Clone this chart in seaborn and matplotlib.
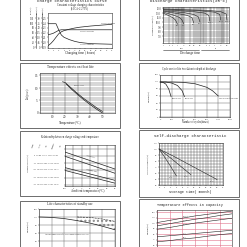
import numpy as np
import pandas as pd
import matplotlib
matplotlib.use("Agg")
import matplotlib.pyplot as plt
import seaborn as sns
from matplotlib.patches import Rectangle

# ---- data ----
# 1. charge characteristics
charge_time = [0, 1, 2, 3, 4, 5, 6, 8, 10, 12, 16, 20, 24]
charge_current = [81, 81, 81, 81, 60, 42, 34, 26, 20, 16, 12, 11, 10]
charge_volume = [5, 12, 22, 34, 46, 53, 57, 62, 66, 69, 73, 76, 79]
charge_voltage = [43, 45, 48, 53, 58, 60, 60, 60, 60, 60, 60, 60, 60]
volt_ticks = ['1.9', '2.0', '2.1', '2.2', '2.3', '2.4', '2.5']
curr_ticks = ['0', '.05', '.10', '.15', '.20', '.25', '.30']
vol_ticks = ['0', '20', '40', '60', '80', '100', '120']

# 2. discharge characteristics (time in minutes, terminal voltage)
dis_rates = ['3CA', '2CA', '1CA', '0.6CA', '0.25CA', '0.1CA', '0.05CA']
dis_times = [[1, 2, 3, 4, 5],
             [1, 3, 6, 8, 10],
             [1, 5, 15, 25, 30],
             [1, 10, 30, 50, 60],
             [1, 30, 100, 160, 180],
             [1, 60, 300, 540, 600],
             [1, 120, 600, 1100, 1200]]
dis_volts = [[12.0, 11.4, 11.0, 10.5, 9.6],
             [12.2, 11.6, 11.1, 10.6, 9.7],
             [12.4, 11.9, 11.5, 11.0, 9.9],
             [12.5, 12.1, 11.7, 11.2, 10.1],
             [12.7, 12.3, 12.0, 11.5, 10.3],
             [12.8, 12.5, 12.2, 11.7, 10.5],
             [12.9, 12.6, 12.3, 11.8, 10.5]]
dis_xticks = [1, 2, 3, 5, 10, 20, 30, 60, 120, 180, 300, 600, 1200]
dis_xlabels = ['1', '2', '3', '5', '10', '20', '30', '60', '2', '3', '5', '10', '20']
dis_yticks = [13, 12, 11, 10, 9, 8, 7]

# 3. temperature effects on float life
fl_temp_a = [18, 20, 25, 30, 35, 40, 45, 50]
fl_life_a = [12.5, 12.2, 10.0, 7.8, 5.8, 4.0, 2.2, 0.6]
fl_temp_b = [21, 25, 30, 35, 40, 45, 50]
fl_life_b = [11.6, 9.6, 7.4, 5.3, 3.4, 1.6, 0.0]

# 4. cycle life vs depth of discharge
dod_labels = ['100%D.O.D', '50%D.O.D', '30% Depth of discharge']
dod_cycles = [[0, 50, 100, 150, 190],
              [0, 100, 200, 300, 380, 420],
              [0, 200, 400, 600, 800, 900, 1000]]
dod_cap = [[100, 99, 94, 80, 58],
           [100, 100, 97, 90, 75, 58],
           [100, 100, 99, 95, 85, 75, 60]]

# 5. charge voltage vs temperature
cv_temp = [-10, 0, 10, 20, 30, 40, 50]
cyc_hi = [15.3, 15.1, 14.9, 14.7, 14.5, 14.3, 14.1]
cyc_lo = [15.0, 14.8, 14.6, 14.4, 14.2, 14.0, 13.8]
flt_hi = [14.2, 14.05, 13.9, 13.75, 13.6, 13.45, 13.3]
flt_lo = [14.0, 13.85, 13.7, 13.55, 13.4, 13.25, 13.1]
cv_headers = ['Temp.', 'Cycle', 'use', 'Standby', 'use']

# 6. self-discharge
sd_labels = ['40°C', '30°C', '20°C']
sd_months = [[0, 2, 4, 6], [0, 4, 8, 11], [0, 5, 10, 15, 20]]
sd_cap = [[100, 86, 71, 55], [100, 85, 69, 57], [100, 88, 75, 62, 49]]

# 7. standby life
sb_years = [0, 2, 4, 6, 8, 10, 12]
sb_cap = [100, 99, 96, 91, 85, 77, 68]
sb_band_years = [6, 8, 10, 12]
sb_band_hi = [100, 99, 95, 89]

# 8. temperature effects on capacity
tc_temp = [-10, 0, 10, 20, 30, 40, 50]
tc_labels = ['0.05CA', '0.1CA', '0.2CA', '1CA', '2CA']
tc_cap = [[101, 105, 109, 113, 116, 119, 122],
          [95, 99, 103, 107, 110, 114, 117],
          [89, 92, 96, 100, 103, 106, 109],
          [75, 77, 79, 81, 83, 85, 87],
          [66, 68, 71, 73, 76, 79, 81]]

# ---- figure ----
sns.set_style("white")
plt.rcParams['font.family'] = ['Liberation Serif', 'DejaVu Sans']
plt.rcParams.update({
    'axes.linewidth': 0.4, 'axes.edgecolor': '#333333',
    'xtick.major.width': 0.3, 'ytick.major.width': 0.3,
    'xtick.major.size': 0.8, 'ytick.major.size': 0.8,
    'xtick.minor.size': 0, 'ytick.minor.size': 0,
    'xtick.major.pad': 0.6, 'ytick.major.pad': 0.6,
    'xtick.labelsize': 2, 'ytick.labelsize': 2,
    'xtick.color': '#333333', 'ytick.color': '#333333',
    'xtick.bottom': True, 'ytick.left': True,
})

W = 247
fig = plt.figure(figsize=(2.47, 2.47), dpi=100)
fig.patch.set_facecolor('white')


def px_axes(x0, y0, x1, y1):
    return fig.add_axes([x0 / W, 1 - y1 / W, (x1 - x0) / W, (y1 - y0) / W])


def box(x0, y0, x1, y1):
    fig.patches.append(Rectangle((x0 / W, 1 - y1 / W), (x1 - x0) / W, (y1 - y0) / W,
                                 transform=fig.transFigure, fill=False,
                                 lw=0.6, ec='#555555'))


def ftext(x, y, s, size=2.6, **kw):
    fig.text(x / W, 1 - y / W, s, fontsize=size, ha=kw.pop('ha', 'center'),
             va=kw.pop('va', 'center'), color=kw.pop('color', '#222222'), **kw)


def line(ax, x, y, **kw):
    sns.lineplot(x=x, y=y, ax=ax, color=kw.pop('color', '#222222'),
                 lw=kw.pop('lw', 0.5), estimator=None, sort=False, **kw)


for b in [(20, -5, 120, 60), (139, -5, 239, 60), (20, 63, 120, 128), (139, 63, 239, 128),
          (20, 131, 120, 196), (139, 130, 239, 197), (20, 201, 120, 252), (139, 199, 239, 252)]:
    box(*b)

# 1 ---- charge characteristics
ftext(72, 1, 'Charge characteristics curve', size=3, family='Liberation Mono')
ftext(80, 5, 'Constant voltage charging characteristics', size=2)
ftext(80, 8, '(0.1CA-2.275V)', size=2)
ax1 = px_axes(48, 13, 112, 48)
line(ax1, charge_time, charge_volume)
line(ax1, charge_time, charge_voltage)
line(ax1, charge_time, charge_current)
ax1.set_xlim(0, 24)
ax1.set_ylim(-3, 118)
ax1.set_xticks(range(0, 25, 2))
ax1.set_xticklabels([str(t) for t in range(0, 25, 2)], fontsize=1.6)
pos = np.linspace(0, 100, 7)
ax1.set_yticks(pos)
ax1.set_yticklabels(volt_ticks)
for off, labels in [(4, curr_ticks), (8.5, vol_ticks)]:
    tw = ax1.twinx()
    tw.set_ylim(-3, 118)
    tw.yaxis.set_ticks_position('left')
    tw.spines['left'].set_position(('outward', off))
    for s in ['right', 'top', 'bottom']:
        tw.spines[s].set_visible(False)
    tw.set_yticks(pos)
    tw.set_yticklabels(labels)
ax1.text(charge_time[-2], charge_volume[-2] + 4, 'Charge volume', fontsize=1.6)
ax1.text(charge_time[-4], charge_voltage[-4] - 9, 'Charge voltage', fontsize=1.6)
ax1.text(charge_time[-4], charge_current[-4] - 7, 'Charge current', fontsize=1.6)
ax1.set_xlabel('')
ftext(80, 53, 'Charging time ( hours)', size=2.3)
for x, s in [(31, 'Volume(%)'), (37, 'Current(CA)'), (43, 'Voltage(V)')]:
    ftext(x, 10, s, size=1.3, rotation=90)

# 2 ---- discharge characteristics
ftext(189, 1, 'Discharge characteristics(25°C)', size=3, family='Liberation Mono')
ax2 = px_axes(163, 7, 229, 43)
for t, v in zip(dis_times, dis_volts):
    line(ax2, t, v, lw=0.4)
ax2.set_xscale('log')
ax2.set_xlim(1, 1500)
ax2.set_ylim(5.6, 13.3)
ax2.set_xticks(dis_xticks)
ax2.set_xticklabels(dis_xlabels, fontsize=1.6)
ax2.set_yticks(dis_yticks)
ax2.set_yticklabels([f'{v:.1f}' for v in dis_yticks])
ax2.yaxis.set_minor_locator(matplotlib.ticker.MultipleLocator(0.5))
ax2.grid(True, which='both', color='#444444', lw=0.3)
for t, v, r in zip(dis_times, dis_volts, dis_rates):
    ax2.text(t[-1] * 0.8, v[-1] - 0.45, r, fontsize=1.3)
ax2.plot([0, 0.55], [-0.2, -0.2], color='#333', lw=0.4, transform=ax2.transAxes, clip_on=False)
ax2.plot([0.57, 1], [-0.2, -0.2], color='#333', lw=0.4, transform=ax2.transAxes, clip_on=False)
ax2.text(0.28, -0.17, 'min', fontsize=1.6, transform=ax2.transAxes, ha='center')
ax2.text(0.78, -0.17, 'h', fontsize=1.6, transform=ax2.transAxes, ha='center')
ftext(190, 53, 'Discharge time', size=2.3)
ftext(153, 25, 'Terminal voltage(V)', size=1.7, rotation=90)

# 3 ---- temperature effects on float life
ftext(70, 67, 'Temperature effects on float life', size=2.6)
ax3 = px_axes(40, 73, 115, 113)
line(ax3, fl_temp_a, fl_life_a)
line(ax3, fl_temp_b, fl_life_b)
ax3.set_xlim(0, 60)
ax3.set_ylim(0, 16)
ax3.set_xticks([10, 20, 30, 40, 50])
ax3.set_yticks([0, 5, 10, 15])
ax3.tick_params(labelsize=2.4)
ax3.yaxis.set_minor_locator(matplotlib.ticker.MultipleLocator(1))
ax3.grid(True, which='major', axis='x', color='#444444', lw=0.3)
ax3.grid(True, which='both', axis='y', color='#444444', lw=0.3)
ax3.text(27, 11, '2.275V/cell', fontsize=1.6)
ftext(70, 123, 'Temperature(°C)', size=2.4)
ftext(28, 93, 'Life(years)', size=1.8, rotation=90)

# 4 ---- cycle life
ftext(189, 69, 'Cycle service life in relation to depth of discharge', size=1.9)
ax4 = px_axes(160, 75, 230, 117)
for c, v in zip(dod_cycles, dod_cap):
    line(ax4, c, v)
ax4.set_xlim(0, 1200)
ax4.set_ylim(0, 120)
ax4.set_xticks(range(0, 1201, 200))
ax4.set_yticks(range(0, 121, 20))
ax4.tick_params(labelsize=1.7)
ax4.grid(True, color='#555555', lw=0.3)
for c, v, s in zip(dod_cycles, dod_cap, dod_labels):
    ax4.text(c[-1] + 10, v[-1] - 3, s, fontsize=1.4, va='top')
ftext(195, 122, 'Number of cycles(times)', size=1.9)
ftext(149, 96, 'Capacity(%)', size=1.7, rotation=90)

# 5 ---- charge voltage vs temperature
ftext(70, 137, 'Relationship between charge voltage and temperature', size=1.9)
ax5 = px_axes(65, 145, 115, 186)
line(ax5, cv_temp, cyc_hi)
line(ax5, cv_temp, cyc_lo)
line(ax5, cv_temp, flt_hi)
line(ax5, cv_temp, flt_lo)
ax5.set_xlim(-10, 50)
ax5.set_ylim(12.9, 15.8)
ax5.set_xticks(range(-10, 51, 10))
ax5.set_yticks([13.0, 13.5, 14.0, 14.5, 15.0, 15.5])
ax5.set_yticklabels([])
ax5.tick_params(labelsize=1.6)
ax5.grid(True, color='#444444', lw=0.3)
ax5.text(15, 14.85, 'Cycle use', fontsize=1.5, rotation=-14)
ax5.text(15, 13.85, 'Standby use', fontsize=1.5, rotation=-12)
for j, h in enumerate(cv_headers):
    ftext(33 + j * 7, 145, h, size=1.6, rotation=70)
for i in range(5):
    row = f'{cv_temp[i + 1]:>3d}  {cyc_lo[i + 1]:.2f} {cyc_hi[i + 1]:.2f}  {flt_lo[i + 1]:.2f} {flt_hi[i + 1]:.2f}'
    ftext(46, 156 + i * 7, row, size=1.5)
ftext(88, 191, 'Ambient temperature(°C)', size=2.3)
ftext(28, 163, 'Charge voltage(V)', size=1.7, rotation=90)

# 6 ---- self discharge
ftext(190, 136, 'Self-discharge characteristic', size=3, family='Liberation Mono')
ax6 = px_axes(159, 143, 223, 185)
for m, v in zip(sd_months, sd_cap):
    line(ax6, m, v, lw=0.4)
ax6.set_xlim(0, 22)
ax6.set_ylim(40, 110)
ax6.set_xticks(range(0, 23, 2))
ax6.set_yticks(range(40, 111, 10))
ax6.tick_params(labelsize=1.6)
ax6.xaxis.set_minor_locator(matplotlib.ticker.MultipleLocator(1))
ax6.yaxis.set_minor_locator(matplotlib.ticker.MultipleLocator(5))
ax6.grid(True, which='both', color='#444444', lw=0.3)
for m, v, s in zip(sd_months, sd_cap, sd_labels):
    ax6.text(m[-1] - 2.5, v[-1] - 1, s, fontsize=1.5, va='top')
ftext(190, 192, 'Storage time( month)', size=2.6, family='Liberation Mono')
ftext(148, 164, 'Capacity retention(%)', size=1.6, rotation=90)

# 7 ---- standby life (lower part runs off the page)
ftext(70, 204, 'Life characteristics of standby use', size=2.3)
ax7 = px_axes(39, 209, 115, 257)
line(ax7, sb_years, sb_cap)
line(ax7, sb_band_years, sb_band_hi, ls='--', lw=0.4)
ax7.fill_between(sb_band_years, sb_band_hi, sb_cap[-4:], facecolor='none',
                 hatch='....', edgecolor='#888888', lw=0)
ax7.set_xlim(0, 12)
ax7.set_ylim(0, 120)
ax7.set_xticks(range(0, 13, 2))
ax7.set_xticklabels([])
ax7.set_yticks(range(0, 121, 20))
ax7.set_yticklabels(['', ''] + [str(v) for v in range(40, 121, 20)])
ax7.tick_params(labelsize=1.7)
ax7.grid(True, color='#555555', lw=0.3)
ax7.text(1, 55, 'Ambient temperature:20°C  Float charge voltage:2.275V/cell',
         fontsize=1.3)
ftext(28, 226, 'Capacity(%)', size=1.7, rotation=90)

# 8 ---- temperature effects on capacity (lower part runs off the page)
ftext(190, 205, 'Temperature effects in capacity', size=2.6, family='Liberation Mono')
ax8 = px_axes(157, 210, 232, 256)
for v in tc_cap:
    line(ax8, tc_temp, v, lw=0.4)
ax8.set_xlim(-10, 50)
ax8.set_ylim(40, 124)
ax8.set_xticks(range(-10, 51, 10))
ax8.set_xticklabels([])
ax8.set_yticks(range(50, 121, 10))
ax8.set_yticklabels([''] + [str(v) for v in range(60, 121, 10)])
ax8.tick_params(labelsize=1.6)
ax8.grid(True, color='#e0708a', lw=0.4)
for v, s in zip(tc_cap, tc_labels):
    ax8.text(tc_temp[2] + 1, v[2] + 1.5, s, fontsize=1.4)
ftext(148, 228, 'Capacity(%)', size=1.7, rotation=90)

fig.savefig('out.png', dpi=100)
